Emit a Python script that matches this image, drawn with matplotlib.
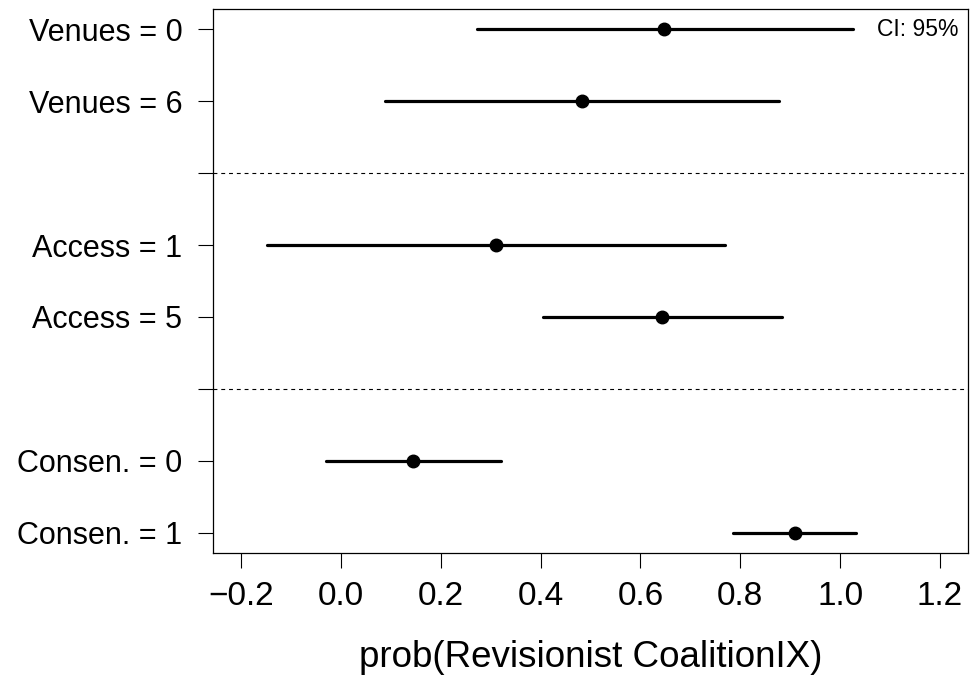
"""Predicted probability dot plot with 95% confidence intervals"""

import matplotlib
matplotlib.use('Agg')
import matplotlib.pyplot as plt

# Data
labels = ['Venues = 0', 'Venues = 6', '', 'Access = 1', 'Access = 5', '',
          'Consen. = 0', 'Consen. = 1']
rows = [0, 1, 3, 4, 6, 7]
est = [0.647, 0.483, 0.311, 0.643, 0.144, 0.909]
lower = [0.272, 0.089, -0.147, 0.404, -0.029, 0.785]
upper = [1.025, 0.878, 0.770, 0.883, 0.320, 1.032]
separators = [2, 5]
xticks = [-0.2, 0.0, 0.2, 0.4, 0.6, 0.8, 1.0, 1.2]

plt.rcParams['font.family'] = ['Liberation Sans', 'DejaVu Sans']

fig = plt.figure(figsize=(9.72, 6.77), dpi=100)
ax = fig.add_axes([213 / 972, 1 - 553 / 677, (968 - 213) / 972, (553 - 9) / 677])

for r, lo, hi, e in zip(rows, lower, upper, est):
    ax.plot([lo, hi], [r, r], color='black', lw=2.3, solid_capstyle='round', zorder=2)
    ax.plot(e, r, 'o', color='black', ms=9, zorder=3)

for s in separators:
    ax.axhline(s, color='black', lw=0.8, ls=(0, (3.5, 3.5)), zorder=1)

ax.set_xlim(-0.256, 1.256)
ax.set_ylim(7.28, -0.28)
ax.set_yticks(range(len(labels)))
ax.set_yticklabels(labels, fontsize=22)
ax.set_xticks(xticks)
ax.set_xticklabels([f'{t:.1f}'.replace('-', '\u2212') for t in xticks], fontsize=24)
ax.tick_params(axis='y', length=11, width=0.8, pad=11)
ax.tick_params(axis='x', length=11, width=0.8, pad=9)
ax.set_xlabel('prob(Revisionist CoalitionIX)', fontsize=26.5, labelpad=20)

for sp in ax.spines.values():
    sp.set_linewidth(0.9)

ax.text(0.987, 0, 'CI: 95%', transform=ax.get_yaxis_transform(),
        ha='right', va='center', fontsize=16.5)

fig.savefig('out.png', dpi=100)
